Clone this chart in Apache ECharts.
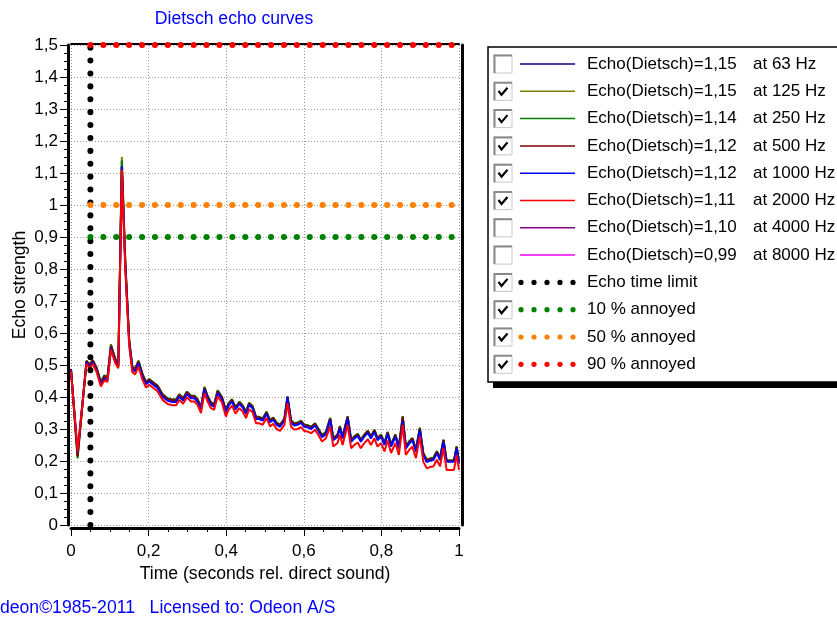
<!DOCTYPE html>
<html><head><meta charset="utf-8">
<script src="https://cdn.jsdelivr.net/npm/echarts@6/dist/echarts.min.js"></script>
<style>html,body{margin:0;padding:0;background:#fff}#c{width:837px;height:619px}</style>
</head><body><div id="c"></div>
<script>
// ---------- data ----------
const times = [0.000,0.017,0.040,0.048,0.056,0.066,0.077,0.086,0.094,0.103,0.114,0.122,0.131,0.140,0.150,0.158,0.165,0.174,0.184,0.193,
0.202,0.212,0.223,0.236,0.249,0.262,0.271,0.279,0.289,0.299,0.309,0.318,0.326,0.335,0.344,0.352,0.361,0.369,0.378,0.389,
0.399,0.406,0.415,0.424,0.434,0.442,0.451,0.459,0.468,0.477,0.485,0.494,0.504,0.513,0.521,0.530,0.539,0.550,0.558,0.567,
0.575,0.584,0.593,0.601,0.610,0.619,0.629,0.637,0.647,0.657,0.668,0.676,0.687,0.693,0.700,0.713,0.722,0.730,0.739,0.747,
0.756,0.765,0.773,0.782,0.790,0.799,0.808,0.816,0.825,0.836,0.845,0.855,0.863,0.872,0.880,0.889,0.899,0.908,0.917,0.925,
0.934,0.943,0.951,0.960,0.968,0.978,0.987,0.994,1.000];

const echo125 = [0.484,0.215,0.512,0.500,0.514,0.490,0.446,0.466,0.461,0.565,0.519,0.503,1.150,0.822,0.576,0.495,0.487,0.512,0.472,0.447,
0.455,0.445,0.435,0.408,0.395,0.391,0.391,0.408,0.396,0.416,0.403,0.403,0.393,0.367,0.430,0.403,0.382,0.377,0.420,0.400,
0.358,0.379,0.392,0.367,0.384,0.374,0.353,0.381,0.371,0.337,0.337,0.332,0.353,0.327,0.335,0.319,0.313,0.332,0.401,0.327,
0.317,0.319,0.325,0.313,0.311,0.306,0.317,0.301,0.280,0.290,0.334,0.271,0.282,0.308,0.276,0.339,0.266,0.276,0.284,0.266,
0.282,0.294,0.276,0.297,0.271,0.282,0.256,0.290,0.251,0.282,0.245,0.339,0.245,0.261,0.271,0.235,0.303,0.224,0.203,0.207,
0.209,0.230,0.209,0.266,0.201,0.201,0.201,0.245,0.198];

const echo250 = [0.486,0.208,0.514,0.502,0.516,0.492,0.447,0.468,0.462,0.563,0.520,0.504,1.140,0.820,0.578,0.496,0.488,0.514,0.473,0.448,
0.456,0.446,0.436,0.409,0.396,0.392,0.394,0.409,0.397,0.417,0.404,0.404,0.394,0.368,0.432,0.404,0.383,0.378,0.421,0.401,
0.359,0.380,0.393,0.368,0.385,0.375,0.354,0.382,0.372,0.338,0.338,0.333,0.354,0.328,0.336,0.320,0.314,0.333,0.402,0.328,
0.318,0.320,0.326,0.314,0.312,0.307,0.318,0.302,0.281,0.291,0.335,0.272,0.283,0.309,0.277,0.340,0.267,0.277,0.285,0.267,
0.283,0.295,0.277,0.298,0.272,0.283,0.257,0.291,0.252,0.283,0.246,0.340,0.246,0.262,0.272,0.236,0.304,0.225,0.204,0.208,
0.210,0.231,0.210,0.267,0.202,0.202,0.202,0.246,0.199];

const echo500 = [0.488,0.215,0.512,0.500,0.514,0.490,0.444,0.465,0.460,0.560,0.518,0.502,1.120,0.815,0.575,0.494,0.486,0.511,0.471,0.446,
0.454,0.444,0.434,0.407,0.394,0.390,0.390,0.407,0.395,0.415,0.402,0.402,0.392,0.366,0.428,0.402,0.381,0.376,0.418,0.399,
0.357,0.378,0.391,0.366,0.383,0.373,0.352,0.380,0.370,0.336,0.336,0.331,0.352,0.326,0.334,0.318,0.312,0.331,0.399,0.326,
0.316,0.318,0.324,0.312,0.310,0.305,0.316,0.300,0.279,0.289,0.333,0.270,0.281,0.307,0.275,0.338,0.265,0.275,0.283,0.265,
0.281,0.293,0.275,0.296,0.270,0.281,0.255,0.289,0.250,0.281,0.244,0.338,0.244,0.260,0.270,0.234,0.302,0.223,0.202,0.206,
0.208,0.229,0.208,0.265,0.200,0.200,0.200,0.244,0.197];

const echo1000 = [0.485,0.228,0.509,0.495,0.509,0.483,0.438,0.457,0.452,0.553,0.511,0.495,1.120,0.810,0.570,0.488,0.480,0.505,0.465,0.440,
0.448,0.438,0.428,0.401,0.388,0.384,0.384,0.401,0.389,0.409,0.396,0.396,0.386,0.360,0.424,0.396,0.375,0.370,0.412,0.393,
0.352,0.373,0.386,0.361,0.378,0.368,0.347,0.375,0.365,0.331,0.331,0.326,0.347,0.321,0.329,0.313,0.307,0.326,0.400,0.321,
0.311,0.313,0.319,0.307,0.305,0.300,0.311,0.295,0.274,0.284,0.328,0.265,0.276,0.302,0.270,0.333,0.260,0.270,0.278,0.260,
0.276,0.288,0.270,0.291,0.265,0.276,0.250,0.284,0.245,0.276,0.239,0.325,0.239,0.255,0.265,0.229,0.297,0.218,0.197,0.201,
0.203,0.224,0.203,0.260,0.198,0.198,0.198,0.239,0.192];

const echo2000 = [0.480,0.230,0.504,0.490,0.504,0.478,0.433,0.452,0.447,0.548,0.506,0.490,1.110,0.800,0.560,0.478,0.470,0.495,0.455,0.430,
0.438,0.428,0.418,0.391,0.378,0.374,0.374,0.391,0.379,0.399,0.386,0.386,0.376,0.350,0.412,0.386,0.365,0.360,0.402,0.383,
0.339,0.360,0.373,0.348,0.365,0.355,0.334,0.362,0.352,0.318,0.318,0.313,0.334,0.308,0.316,0.300,0.294,0.313,0.381,0.308,
0.298,0.300,0.306,0.294,0.292,0.287,0.298,0.282,0.261,0.271,0.308,0.245,0.256,0.282,0.250,0.313,0.240,0.250,0.258,0.240,
0.256,0.268,0.250,0.271,0.245,0.256,0.230,0.264,0.225,0.256,0.219,0.313,0.219,0.235,0.245,0.209,0.277,0.198,0.177,0.181,
0.183,0.204,0.183,0.240,0.172,0.172,0.172,0.219,0.172];

const freqLabels = ['at 63 Hz','at 125 Hz','at 250 Hz','at 500 Hz','at 1000 Hz','at 2000 Hz','at 4000 Hz','at 8000 Hz'];
const dietschValues = ['1,15','1,15','1,14','1,12','1,12','1,11','1,10','0,99'];
const freqColors = ['#000080','#808000','#008000','#800000','#0000ff','#ff0000','#800080','#ff00ff'];
const freqChecked = [false,true,true,true,true,true,false,false];
const freqData = [null, echo125, echo250, echo500, echo1000, echo2000, null, null];

const limitLabels = ['Echo time limit','10 % annoyed','50 % annoyed','90 % annoyed'];
const limitColors = ['#000000','#008000','#ff8000','#ff0000'];
const echoTimeLimit = 0.05;
const annoyedLevels = [0.9, 1.0, 1.5];

const xMin = 0, xMax = 1, xStep = 0.2;
const yMin = 0, yMax = 1.5, yStep = 0.1;

const titleText = 'Dietsch echo curves';
const xName = 'Time (seconds rel. direct sound)';
const yName = 'Echo strength';
const footerText = 'deon\u00a91985-2011   Licensed to: Odeon A/S';

// ---------- chart ----------
const FONT = '"Liberation Sans", Arial, sans-serif';
const FS = 17;
const FS2 = 17.6;
const fmt = v => {
  const r = Math.round(v * 10) / 10;
  return String(r).replace('.', ',');
};

const series = [];
freqData.forEach((arr, i) => {
  if (!freqChecked[i] || !arr) return;
  series.push({
    name: 'Echo(Dietsch)=' + dietschValues[i] + ' ' + freqLabels[i],
    type: 'line', xAxisIndex: 0, yAxisIndex: 0,
    data: times.map((t, k) => [t, arr[k]]),
    showSymbol: false, symbol: 'none', silent: true, animation: false,
    lineStyle: { color: freqColors[i], width: 2 }
  });
});
const dotStyle = c => ({ color: c, width: 6, type: [0.1, 12.8], cap: 'round' });
series.push({
  name: limitLabels[0], type: 'line', symbol: 'none', silent: true, animation: false,
  data: [[echoTimeLimit, yMin], [echoTimeLimit, yMax]],
  lineStyle: dotStyle(limitColors[0]), z: 3
});
annoyedLevels.forEach((lv, i) => {
  series.push({
    name: limitLabels[i + 1], type: 'line', symbol: 'none', silent: true, animation: false,
    data: [[echoTimeLimit, lv], [xMax, lv]],
    lineStyle: dotStyle(limitColors[i + 1]), z: 3
  });
});

// legend graphics
const g = [];
const LX = 488, LY = 47, LW = 420, LH = 335;
g.push({ type: 'rect', shape: { x: LX + 5, y: LY + 6, width: LW, height: LH }, style: { fill: '#000' }, silent: true });
g.push({ type: 'rect', shape: { x: LX, y: LY, width: LW, height: LH }, style: { fill: '#fff', stroke: '#000', lineWidth: 1.5 }, silent: true });
const rowY = k => 64 + k * 27.3;
const rows = [];
freqLabels.forEach((f, i) => rows.push({ checked: freqChecked[i], color: freqColors[i], dotted: false, text: 'Echo(Dietsch)=' + dietschValues[i], text2: f }));
limitLabels.forEach((l, i) => rows.push({ checked: true, color: limitColors[i], dotted: true, text: l, text2: '' }));
rows.forEach((r, k) => {
  const cy = rowY(k);
  g.push({ type: 'rect', shape: { x: 494, y: cy - 9, width: 18, height: 18 }, style: { fill: '#fff', stroke: '#c8c8c8', lineWidth: 1 }, silent: true });
  g.push({ type: 'polyline', shape: { points: [[494.5, cy + 9], [494.5, cy - 8.5], [512, cy - 8.5]] }, style: { stroke: '#8a8a8a', lineWidth: 2, fill: null }, silent: true });
  if (r.checked) {
    g.push({ type: 'polyline', shape: { points: [[498.5, cy - 0.5], [501.5, cy + 3.5], [507.5, cy - 3.5]] }, style: { stroke: '#000', lineWidth: 2.2, fill: null }, silent: true });
  }
  if (r.dotted) {
    for (let d = 0; d < 5; d++) {
      g.push({ type: 'circle', shape: { cx: 521 + d * 13, cy: cy, r: 2.6 }, style: { fill: r.color }, silent: true });
    }
  } else {
    g.push({ type: 'line', shape: { x1: 520, y1: cy, x2: 575, y2: cy }, style: { stroke: r.color, lineWidth: 1.5 }, silent: true });
  }
  g.push({ type: 'text', x: 587, y: cy, style: { text: r.text, fill: '#000', font: FS + 'px ' + FONT, textVerticalAlign: 'middle', verticalAlign: 'middle' }, silent: true });
  if (r.text2) g.push({ type: 'text', x: 753, y: cy, style: { text: r.text2, fill: '#000', font: FS + 'px ' + FONT, textVerticalAlign: 'middle', verticalAlign: 'middle' }, silent: true });
});
g.push({ type: 'text', x: 234, y: 19, style: { text: titleText, fill: '#0000ff', font: FS2 + 'px ' + FONT, align: 'center', verticalAlign: 'middle', textAlign: 'center', textVerticalAlign: 'middle' }, silent: true });
g.push({ type: 'text', x: 0, y: 608, style: { text: footerText, fill: '#0000ff', font: FS2 + 'px ' + FONT, verticalAlign: 'middle', textVerticalAlign: 'middle' }, silent: true });

const chart = echarts.init(document.getElementById('c'), null, { renderer: 'canvas' });
const axisLbl = { fontSize: FS, color: '#000', fontFamily: FONT };
chart.setOption({
  animation: false,
  backgroundColor: '#fff',
  textStyle: { fontFamily: FONT },
  grid: { left: 71, right: 837 - 459, top: 45, bottom: 619 - 525, containLabel: false },
  xAxis: [{
    type: 'value', min: xMin, max: xMax, interval: xStep, offset: 3,
    axisLine: { onZero: false, lineStyle: { color: '#000', width: 3 } },
    axisTick: { length: 8, lineStyle: { color: '#000', width: 1 } },
    minorTick: { show: true, splitNumber: 4, length: 4, lineStyle: { color: '#000', width: 1 } },
    splitLine: { show: true, lineStyle: { color: '#9a9a9a', width: 1, type: [1, 2] } },
    axisLabel: Object.assign({ margin: 15, formatter: fmt }, axisLbl),
    name: xName, nameLocation: 'middle', nameGap: 37,
    nameTextStyle: { fontSize: FS2, color: '#000', fontFamily: FONT }
  }, {
    type: 'value', min: xMin, max: xMax, position: 'top', offset: 1,
    axisLine: { show: true, onZero: false, lineStyle: { color: '#000', width: 2 } },
    axisTick: { show: false }, axisLabel: { show: false }, splitLine: { show: false }
  }],
  yAxis: [{
    type: 'value', min: yMin, max: yMax, interval: yStep, offset: 3,
    axisLine: { show: true, onZero: false, lineStyle: { color: '#000', width: 3 } },
    axisTick: { show: true, length: 8, lineStyle: { color: '#000', width: 1 } },
    minorTick: { show: true, splitNumber: 4, length: 4, lineStyle: { color: '#000', width: 1 } },
    splitLine: { show: true, lineStyle: { color: '#9a9a9a', width: 1, type: [1, 2] } },
    axisLabel: Object.assign({ margin: 10, formatter: fmt }, axisLbl),
    name: yName, nameLocation: 'middle', nameGap: 39, nameRotate: 90,
    nameTextStyle: { fontSize: FS2, color: '#000', fontFamily: FONT }
  }, {
    type: 'value', min: yMin, max: yMax, position: 'right', offset: 3,
    axisLine: { show: true, onZero: false, lineStyle: { color: '#000', width: 3 } },
    axisTick: { show: false }, axisLabel: { show: false }, splitLine: { show: false }
  }],
  series: series,
  graphic: g
});
</script>
</body></html>
